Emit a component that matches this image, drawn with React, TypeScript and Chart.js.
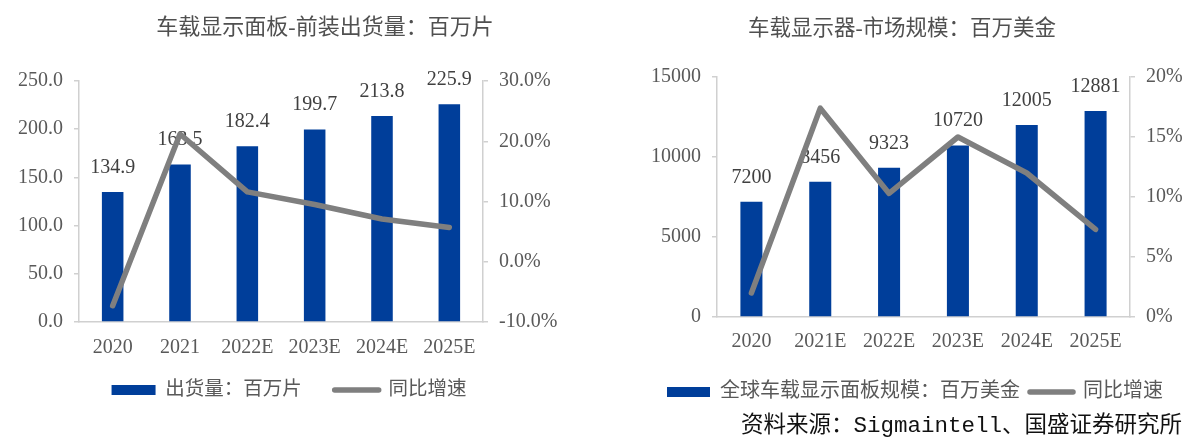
import { useEffect, useRef } from 'react';
import { Chart, registerables } from 'chart.js';

Chart.register(...registerables);

// 左图：车载显示面板前装出货量
const shipYears = ['2020', '2021', '2022E', '2023E', '2024E', '2025E'];
const shipVolume = [134.9, 163.5, 182.4, 199.7, 213.8, 225.9];
const shipGrowth = [-7.3, 21.2, 11.6, 9.5, 7.1, 5.7];

// 右图：车载显示器市场规模
const marketYears = ['2020', '2021E', '2022E', '2023E', '2024E', '2025E'];
const marketSize = [7200, 8456, 9323, 10720, 12005, 12881];
const marketGrowth = [2.0, 17.4, 10.3, 15.0, 12.0, 7.3];

const BLUE = '#003E9A';
const GREY = '#7F7F7F';
const AXIS = '#D0D0D0';
const TEXT = '#595959';
const SERIF = "'Liberation Serif', 'Noto Sans CJK SC', serif";

// 柱顶数值
const valueLabels = {
  id: 'valueLabels',
  afterDatasetDraw(chart: any, args: any, opts: any) {
    if (args.index !== 0) return;
    const { ctx } = chart;
    ctx.save();
    ctx.font = `20px ${SERIF}`;
    ctx.fillStyle = '#404040';
    ctx.textAlign = 'center';
    ctx.textBaseline = 'alphabetic';
    args.meta.data.forEach((bar: any, i: number) => {
      const v = chart.data.datasets[0].data[i] as number;
      ctx.fillText(v.toFixed(opts.decimals || 0), bar.x, bar.y - 19);
    });
    ctx.restore();
  },
};

type Spec = {
  labels: string[];
  bars: number[];
  growth: number[];
  barLabel: string;
  lineLabel: string;
  yMax: number;
  yStep: number;
  yDec: number;
  y1Min: number;
  y1Max: number;
  y1Step: number;
  y1Dec: number;
  leftW: number;
  rightW: number;
  top: number;
  xH: number;
  xPad: number;
  bottomPad: number;
  legendPad: number;
  legendSize: number;
  boxW: number;
};

function ComboChart({ spec, box }: { spec: Spec; box: React.CSSProperties }) {
  const ref = useRef<HTMLCanvasElement>(null);

  useEffect(() => {
    if (!ref.current) return;
    const tickFont = { size: 20, family: SERIF };
    const chart = new Chart(ref.current, {
      type: 'bar',
      data: {
        labels: spec.labels,
        datasets: [
          {
            type: 'bar',
            label: spec.barLabel,
            data: spec.bars,
            backgroundColor: BLUE,
            borderWidth: 0,
            barPercentage: 0.32,
            categoryPercentage: 1,
            yAxisID: 'y',
            order: 1,
          },
          {
            type: 'line',
            label: spec.lineLabel,
            data: spec.growth,
            borderColor: GREY,
            backgroundColor: GREY,
            borderWidth: 5.5,
            borderCapStyle: 'round',
            borderJoinStyle: 'round',
            pointRadius: 0,
            tension: 0,
            fill: false,
            yAxisID: 'y1',
            order: 0,
          },
        ] as any,
      },
      options: {
        animation: false,
        responsive: true,
        maintainAspectRatio: false,
        layout: { padding: { top: spec.top, bottom: spec.bottomPad, left: 0, right: 0 } },
        plugins: {
          tooltip: { enabled: false },
          valueLabels: { decimals: spec.yDec },
          legend: {
            position: 'bottom',
            labels: {
              usePointStyle: true,
              pointStyleWidth: spec.boxW,
              boxHeight: 10,
              padding: spec.legendPad,
              color: TEXT,
              font: { size: spec.legendSize, family: SERIF },
              sort: (a: any, b: any) => a.datasetIndex - b.datasetIndex,
              generateLabels: (c: any) =>
                Chart.defaults.plugins.legend.labels.generateLabels(c).map((item: any) =>
                  item.datasetIndex === 0
                    ? { ...item, pointStyle: 'rect', lineWidth: 0, fillStyle: BLUE }
                    : { ...item, pointStyle: 'line', lineWidth: 5.5, strokeStyle: GREY, lineCap: 'round' }
                ),
            },
          },
        } as any,
        scales: {
          x: {
            grid: { display: false, drawTicks: false },
            border: { display: true, color: AXIS, width: 1.5 },
            ticks: { color: TEXT, font: tickFont, padding: spec.xPad, autoSkip: false, maxRotation: 0 },
            afterFit: (s: any) => { s.height = spec.xH; },
          },
          y: {
            position: 'left',
            min: 0,
            max: spec.yMax,
            ticks: {
              stepSize: spec.yStep,
              color: TEXT,
              font: tickFont,
              padding: 11,
              callback: (v: any) => Number(v).toFixed(spec.yDec),
            },
            grid: { drawOnChartArea: false, drawTicks: true, tickLength: 5, color: AXIS, lineWidth: 1.5 },
            border: { color: AXIS, width: 1.5 },
            afterFit: (s: any) => { s.width = spec.leftW; },
          },
          y1: {
            position: 'right',
            min: spec.y1Min,
            max: spec.y1Max,
            ticks: {
              stepSize: spec.y1Step,
              color: TEXT,
              font: tickFont,
              padding: 11,
              callback: (v: any) => Number(v).toFixed(spec.y1Dec) + '%',
            },
            grid: { drawOnChartArea: false, drawTicks: true, tickLength: 5, color: AXIS, lineWidth: 1.5 },
            border: { color: AXIS, width: 1.5 },
            afterFit: (s: any) => { s.width = spec.rightW; },
          },
        } as any,
      },
      plugins: [valueLabels as any],
    });
    return () => { chart.destroy(); };
  }, [spec]);

  return (
    <div style={{ position: 'absolute', ...box }}>
      <canvas ref={ref} />
    </div>
  );
}

// 左图图例第一项后留出较宽间距
const leftSpec: Spec = {
  labels: shipYears, bars: shipVolume, growth: shipGrowth,
  barLabel: '出货量：百万片   ', lineLabel: '同比增速',
  yMax: 250, yStep: 50, yDec: 1, y1Min: -10, y1Max: 30, y1Step: 10, y1Dec: 1,
  leftW: 79, rightW: 95, top: 81, xH: 40, xPad: 13.5, bottomPad: 27.25,
  legendPad: 18.25, legendSize: 19.5, boxW: 44,
};

const rightSpec: Spec = {
  labels: marketYears, bars: marketSize, growth: marketGrowth,
  barLabel: '全球车载显示面板规模：百万美金', lineLabel: '同比增速',
  yMax: 15000, yStep: 5000, yDec: 0, y1Min: 0, y1Max: 20, y1Step: 5, y1Dec: 0,
  leftW: 69, rightW: 52, top: 77, xH: 55, xPad: 12.5, bottomPad: 25,
  legendPad: 10, legendSize: 20, boxW: 43,
};

const titleStyle: React.CSSProperties = {
  position: 'absolute',
  textAlign: 'center',
  color: '#505050',
  fontFamily: SERIF,
  whiteSpace: 'nowrap',
};

export default function App() {
  return (
    <div style={{ position: 'fixed', left: 0, top: 0, width: 1182, height: 437, background: '#fff', overflow: 'hidden' }}>
      <ComboChart spec={leftSpec} box={{ left: 0, top: 0, width: 578, height: 437 }} />
      <ComboChart spec={rightSpec} box={{ left: 648, top: 0, width: 534, height: 437 }} />
      <div style={{ ...titleStyle, left: 0, width: 650, top: 16, fontSize: 22, lineHeight: '22px' }}>
        车载显示面板-前装出货量：百万片
      </div>
      <div style={{ ...titleStyle, left: 652, width: 500, top: 17, fontSize: 21.5, lineHeight: '22px' }}>
        车载显示器-市场规模：百万美金
      </div>
      <div
        style={{
          position: 'absolute', left: 0, width: 1182, top: 415, textAlign: 'right',
          fontSize: 22.5, lineHeight: '23px', color: '#111', whiteSpace: 'nowrap',
          fontFamily: "'Liberation Mono', 'Noto Sans CJK SC', monospace",
        }}
      >
        资料来源：Sigmaintell、国盛证券研究所
      </div>
    </div>
  );
}
